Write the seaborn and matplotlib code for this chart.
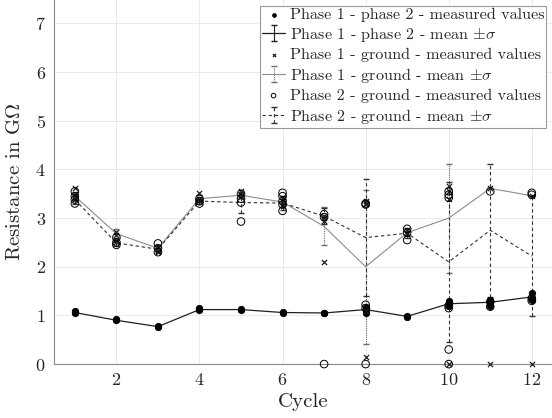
import matplotlib
matplotlib.use("Agg")
import matplotlib.pyplot as plt
import seaborn as sns

# cycle numbers
cycles = [1, 2, 3, 4, 5, 6, 7, 8, 9, 10, 11, 12]

# phase 1 - phase 2 measured values
p12_cycle = [1, 1, 1, 2, 2, 3, 3, 4, 4, 4, 5, 5, 6, 6, 7, 7, 8, 8, 8, 8,
             9, 9, 10, 10, 10, 10, 11, 11, 11, 12, 12, 12]
p12_value = [1.05, 1.08, 1.10, 0.90, 0.92, 0.76, 0.78, 1.11, 1.13, 1.15,
             1.12, 1.14, 1.06, 1.08, 1.04, 1.06, 1.05, 1.10, 1.15, 1.18,
             0.97, 0.99, 1.20, 1.24, 1.27, 1.29, 1.20, 1.27, 1.32,
             1.32, 1.35, 1.47]

# phase 1 - ground measured values
p1g_cycle = [1, 1, 1, 1, 2, 2, 2, 2, 3, 3, 3, 4, 4, 4, 5, 5, 5, 6, 6, 6, 6,
             7, 7, 7, 7, 8, 8, 8, 8, 8, 9, 9, 9, 10, 10, 10, 10, 11, 11, 12, 12]
p1g_value = [3.62, 3.50, 3.45, 3.40, 2.72, 2.65, 2.55, 2.50, 2.40, 2.35, 2.30,
             3.52, 3.40, 3.35, 3.55, 3.50, 3.45, 3.40, 3.35, 3.30, 3.25,
             3.05, 3.00, 2.95, 2.10, 3.35, 3.32, 3.30, 1.10, 0.15,
             2.75, 2.70, 2.68, 3.65, 3.55, 3.40, 0.0, 3.62, 0.0, 3.45, 0.0]

# phase 2 - ground measured values
p2g_cycle = [1, 1, 1, 1, 2, 2, 2, 3, 3, 3, 4, 4, 4, 5, 5, 5, 5, 6, 6, 6, 6, 6,
             7, 7, 7, 8, 8, 8, 8, 8, 9, 9, 9, 10, 10, 10, 10, 10, 10, 10,
             11, 11, 11, 12, 12, 12, 12]
p2g_value = [3.55, 3.45, 3.38, 3.30, 2.60, 2.50, 2.45, 2.48, 2.38, 2.30,
             3.40, 3.35, 3.30, 3.50, 3.40, 3.32, 2.93, 3.52, 3.45, 3.35, 3.28, 3.15,
             3.08, 3.02, 0.0, 3.30, 3.28, 1.22, 1.15, 0.0, 2.78, 2.70, 2.55,
             3.55, 3.48, 3.42, 1.20, 1.15, 0.30, 0.0,
             3.55, 1.18, 1.28, 3.52, 3.48, 1.30, 1.35]

# means and standard deviations per cycle
p12_mean = [1.06, 0.90, 0.77, 1.12, 1.12, 1.06, 1.05, 1.12, 0.98, 1.24, 1.27, 1.38]
p12_std = [0.03, 0.02, 0.02, 0.03, 0.02, 0.02, 0.02, 0.06, 0.01, 0.04, 0.06, 0.08]
p1g_mean = [3.45, 2.68, 2.38, 3.40, 3.47, 3.33, 2.83, 2.00, 2.70, 3.00, 3.61, 3.46]
p1g_std = [0.09, 0.09, 0.05, 0.07, 0.05, 0.07, 0.39, 1.58, 0.04, 1.12, 0.01, 0.01]
p2g_mean = [3.38, 2.49, 2.36, 3.35, 3.32, 3.31, 3.04, 2.60, 2.69, 2.10, 2.75, 2.22]
p2g_std = [0.10, 0.07, 0.08, 0.05, 0.22, 0.15, 0.16, 1.20, 0.10, 1.65, 1.37, 1.23]

sns.set_style("whitegrid")
plt.rcParams['font.family'] = 'cmr10'
plt.rcParams['mathtext.fontset'] = 'cm'
plt.rcParams['axes.unicode_minus'] = False
plt.rcParams['axes.formatter.use_mathtext'] = True

fig = plt.figure(figsize=(5.52, 4.18), dpi=100)
ax = fig.add_axes([0.098, 0.129, 0.903, 0.873])

grey = '#8c8c8c'

# measured values
sns.scatterplot(x=p12_cycle, y=p12_value, marker='o', color='black', s=22,
                edgecolor='black', linewidth=0.5, ax=ax, clip_on=False, zorder=4)
sns.scatterplot(x=p1g_cycle, y=p1g_value, marker='x', color='#202020', s=14,
                linewidth=0.9, ax=ax, clip_on=False, zorder=4)
sns.scatterplot(x=p2g_cycle, y=p2g_value, marker='o', facecolor='none',
                edgecolor='black', s=30, linewidth=0.7, ax=ax, clip_on=False, zorder=4)

# means with +-sigma
eb1 = ax.errorbar(cycles, p12_mean, yerr=p12_std, color='#202020', lw=0.9,
                  capsize=2, elinewidth=0.8, zorder=3)
eb2 = ax.errorbar(cycles, p1g_mean, yerr=p1g_std, color=grey, lw=0.8,
                  capsize=2, elinewidth=0.8, ecolor='#707070', zorder=3)
eb3 = ax.errorbar(cycles, p2g_mean, yerr=p2g_std, color='#303030', lw=0.8,
                  ls=(0, (3, 2.5)), capsize=2, elinewidth=0.8, zorder=3)
eb2[2][0].set_linestyle((0, (1, 1)))
eb3[2][0].set_linestyle((0, (3, 2.5)))

ax.set_xlim(0.5, 12.5)
ax.set_ylim(0, 7.5)
ax.set_xticks([2, 4, 6, 8, 10, 12])
ax.set_yticks([0, 1, 2, 3, 4, 5, 6, 7])
ax.grid(True, color='#ebebeb', lw=0.7)
for side in ['top', 'right']:
    ax.spines[side].set_visible(False)
for side in ['left', 'bottom']:
    ax.spines[side].set_color('#8a8a8a')
    ax.spines[side].set_linewidth(0.8)
ax.tick_params(axis='both', labelsize=13, colors='#262626', length=0, pad=6)
ax.set_xlabel('Cycle', fontsize=15, color='#262626', labelpad=3)
ax.set_ylabel(r'Resistance in G$\Omega$', fontsize=15, color='#262626', labelpad=8)

handles = [ax.collections[0], eb1, ax.collections[1], eb2, ax.collections[2], eb3]
labels = ['Phase 1 - phase 2 - measured values',
          r'Phase 1 - phase 2 - mean $\pm\sigma$',
          'Phase 1 - ground - measured values',
          r'Phase 1 - ground - mean $\pm\sigma$',
          'Phase 2 - ground - measured values',
          r'Phase 2 - ground - mean $\pm\sigma$']
leg = ax.legend(handles, labels, loc='upper right', fontsize=11.6, frameon=True,
                fancybox=False, framealpha=1, edgecolor='#9a9a9a',
                borderaxespad=0.4, handlelength=1.4, handletextpad=0.3,
                labelspacing=0.24, borderpad=0.12, markerscale=0.6)
leg.get_frame().set_linewidth(0.8)

fig.savefig('out.png', dpi=100)
